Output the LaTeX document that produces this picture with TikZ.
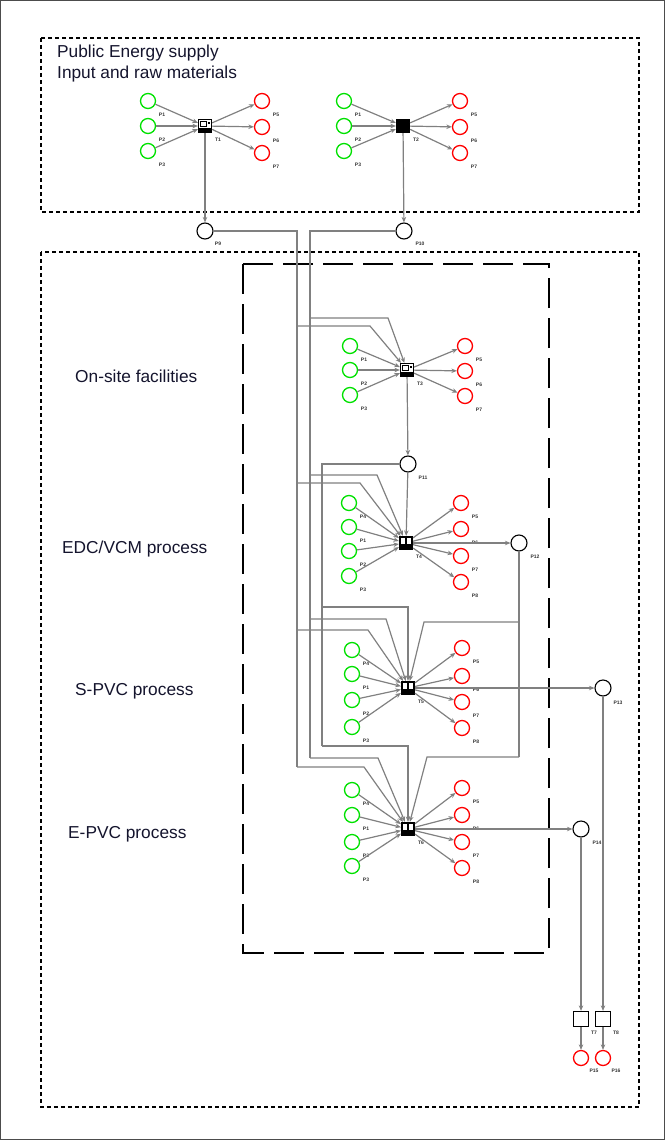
\documentclass[tikz,border=0pt]{standalone}
\usepackage{fontspec}
\setmainfont{Liberation Sans}
\usetikzlibrary{arrows.meta,calc}
\definecolor{lg}{RGB}{128,128,128}
\definecolor{pg}{RGB}{0,225,0}
\definecolor{pr}{RGB}{255,0,0}
\definecolor{tx}{RGB}{20,20,45}
\newcommand{\mkgroup}[9]{%
  \node[#8] (#1) at (#2,#3) {};
  \node[lbl] (#1l) at (#2+13,#3+14) {#9};
  \foreach \yy/\ll [count=\i] in {#5} {
    \node[gp] (#1g\i) at (#4,\yy) {};
    \node[lbl] (#1gl\i) at (#4+14,\yy+14) {\ll};
    \draw[conn] (#1g\i) -- (#1);
  }
  \foreach \yy/\ll [count=\i] in {#7} {
    \node[rp] (#1r\i) at (#6,\yy) {};
    \node[lbl] (#1rl\i) at (#6+14,\yy+14) {\ll};
    \draw[conn] (#1) -- (#1r\i);
  }
}
\begin{document}
\begin{tikzpicture}[x=1pt,y=-1pt,
  conn/.style={draw=lg, line width=1.2pt, -{Stealth[length=5.5pt,width=4.5pt]}},
  wire/.style={draw=lg, line width=1.2pt},
  gp/.style={circle, draw=pg, line width=1.3pt, minimum size=15pt, inner sep=0pt, fill=white},
  rp/.style={circle, draw=pr, line width=1.3pt, minimum size=15pt, inner sep=0pt, fill=white},
  bp/.style={circle, draw=black, line width=1.1pt, minimum size=16pt, inner sep=0pt, fill=white},
  lbl/.style={font=\fontsize{5}{5}\selectfont\bfseries, inner sep=0pt, text=black!80},
  ttl/.style={font=\fontsize{17.3}{20}\selectfont, anchor=base west, inner sep=0pt, text=tx},
  tbase/.style={draw=black, line width=1.2pt, minimum size=13pt, inner sep=0pt},
  tA/.style={tbase, fill=white, path picture={
      \fill[black] (path picture bounding box.south west) rectangle ([yshift=5pt]path picture bounding box.south east);
      \draw[black, line width=0.6pt] ([shift={(2pt,-2pt)}]path picture bounding box.north west) rectangle ([shift={(8pt,-7pt)}]path picture bounding box.north west);
      \fill[black] ([shift={(-4pt,-2pt)}]path picture bounding box.north east) rectangle ([shift={(-2pt,-4pt)}]path picture bounding box.north east);
    }},
  tB/.style={tbase, fill=black},
  tC/.style={tbase, fill=black, path picture={
      \fill[white] ([shift={(1.5pt,-1.5pt)}]path picture bounding box.north west) rectangle ([shift={(5pt,-7pt)}]path picture bounding box.north west);
      \fill[white] ([shift={(-5.5pt,-1.5pt)}]path picture bounding box.north east) rectangle ([shift={(-1.5pt,-7pt)}]path picture bounding box.north east);
    }},
  tS/.style={draw=black, line width=1.3pt, fill=white, minimum size=15pt, inner sep=0pt},
  shortd/.style={draw=black, line width=1.2pt, dash pattern=on 4pt off 3pt},
  longd/.style={draw=black, line width=1.5pt, dash pattern=on 30pt off 10pt},
]
\useasboundingbox (0,0) rectangle (665,1140);
\draw[black!70, line width=1pt] (0.5,0.5) rectangle (664.5,1139.5);

% frames
\draw[shortd] (41,38) rectangle (639,212);
\draw[shortd] (41,252) rectangle (639,1107);
\draw[longd] (243,264) rectangle (549,953);

% titles
\node[ttl] (t1) at (57,57) {Public Energy supply};
\node[ttl] (t2) at (57,78) {Input and raw materials};
\node[ttl] (t3) at (75,382) {On-site facilities};
\node[ttl] (t4) at (62,553) {EDC/VCM process};
\node[ttl] (t5) at (75,695) {S-PVC process};
\node[ttl] (t6) at (68,838) {E-PVC process};

% places (black)
\node[bp] (P9) at (205,231) {};  \node[lbl] (P9l) at (218,244) {P9};
\node[bp] (P10) at (404,231) {}; \node[lbl] (P10l) at (420,244) {P10};
\node[bp] (P11) at (408,464) {}; \node[lbl] (P11l) at (423,478) {P11};
\node[bp] (P12) at (519,543) {}; \node[lbl] (P12l) at (535,557) {P12};
\node[bp] (P13) at (603,688) {}; \node[lbl] (P13l) at (618,703) {P13};
\node[bp] (P14) at (581,829) {}; \node[lbl] (P14l) at (597,843) {P14};

% groups
\mkgroup{T1}{205}{126}{148}{101/P1,126/P2,151/P3}{262}{101/P5,127/P6,153/P7}{tA}{T1}
\mkgroup{T2}{403}{126}{344}{101/P1,126/P2,151/P3}{460}{101/P5,127/P6,153/P7}{tB}{T2}
\mkgroup{T3}{407}{370}{350}{346/P1,370/P2,395/P3}{465}{346/P5,371/P6,396/P7}{tA}{T3}
\mkgroup{T4}{406}{543}{349}{503/P4,527/P1,551/P2,576/P3}{461}{503/P5,529/P6,556/P7,582/P8}{tC}{T4}
\mkgroup{TS}{408}{688}{352}{650/P4,674/P1,700/P2,727/P3}{462}{648/P5,676/P6,702/P7,728/P8}{tC}{T5}
\mkgroup{TE}{408}{829}{352}{790/P4,815/P1,842/P2,866/P3}{462}{788/P5,815/P6,842/P7,868/P8}{tC}{T6}

% branch points
\coordinate (a1) at (297,326); \coordinate (a2) at (297,483);
\coordinate (a3) at (297,630); \coordinate (a4) at (297,767);
\coordinate (b1) at (310,318); \coordinate (b2) at (310,475);
\coordinate (b3) at (310,619); \coordinate (b4) at (310,758);
\coordinate (c1) at (322,607); \coordinate (c2) at (322,746);
\coordinate (d1) at (519,622); \coordinate (d2) at (519,757);

% trunks
\draw[wire] (P9.east) -- (297,231) -- (a4);
\draw[wire] (P10.west) -- (310,231) -- (b4);
\draw[wire] (P11.west) -- (322,464) -- (c2);
\draw[wire] (P12.south) -- (d2);

% branches
\draw[conn] (a1) -- (370,326) -- (T3);
\draw[conn] (a2) -- (360,483) -- (T4);
\draw[conn] (a3) -- (368,630) -- (TS);
\draw[conn] (a4) -- (364,767) -- (TE);
\draw[conn] (b1) -- (388,318) -- (T3);
\draw[conn] (b2) -- (377,475) -- (T4);
\draw[conn] (b3) -- (386,619) -- (TS);
\draw[conn] (b4) -- (378,758) -- (TE);
\draw[conn] (P11) -- (T4);
\draw[conn] (c1) -- (408,607) -- (TS);
\draw[conn] (c2) -- (408,746) -- (TE);
\draw[conn] (d1) -- (424,622) -- (TS);
\draw[conn] (d2) -- (427,757) -- (TE);

% outputs
\draw[conn] (T1) -- (P9);
\draw[conn] (T2) -- (P10);
\draw[conn] (T3) -- (P11);
\draw[conn] (T4) -- (P12);
\draw[conn] (TS) -- (P13);
\draw[conn] (TE) -- (P14);

% bottom transitions
\node[tS] (T7) at (581,1019) {}; \node[lbl] (T7l) at (594,1033) {T7};
\node[tS] (T8) at (603,1019) {}; \node[lbl] (T8l) at (616,1033) {T8};
\node[rp] (P15) at (581,1058) {}; \node[lbl] (P15l) at (594,1071) {P15};
\node[rp] (P16) at (603,1058) {}; \node[lbl] (P16l) at (616,1071) {P16};
\draw[conn] (P14) -- (T7);
\draw[conn] (P13) -- (T8);
\draw[conn] (T7) -- (P15);
\draw[conn] (T8) -- (P16);
\end{tikzpicture}
\end{document}
